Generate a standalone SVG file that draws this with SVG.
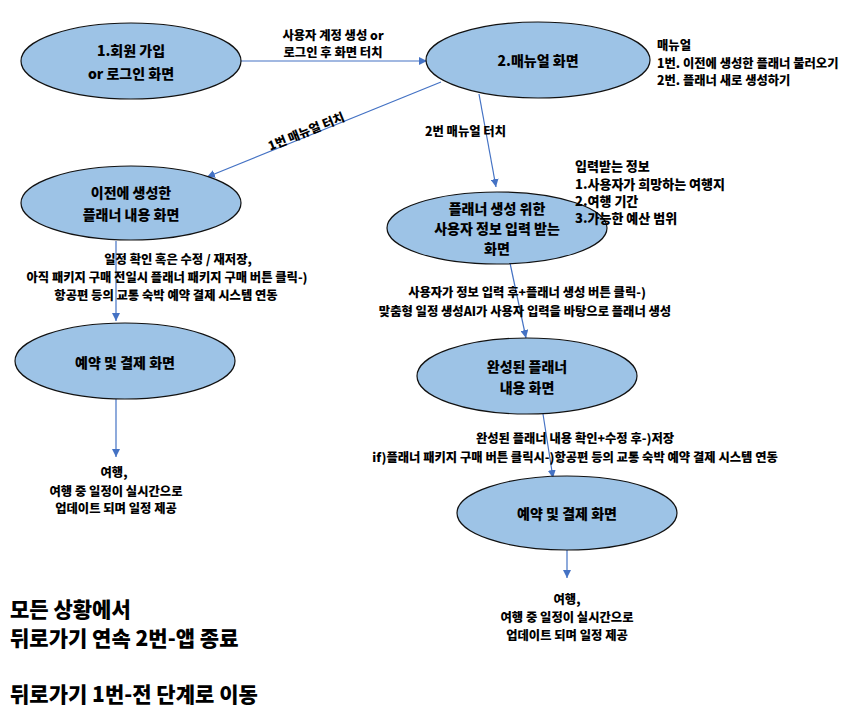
<svg xmlns="http://www.w3.org/2000/svg" width="866" height="720" viewBox="0 0 866 720">
<defs>
<style>
text{font-family:"Noto Sans CJK KR","Liberation Sans",sans-serif;font-weight:900;fill:#000;dominant-baseline:central}
.node ellipse{fill:#9DC3E6;stroke:#111;stroke-width:1.2}
.nt{font-size:14px;text-anchor:middle}
.lb{font-size:12.3px;text-anchor:middle}
.sd{font-size:12.3px}
.sd2{font-size:13px}
.big{font-size:21px}
.conn line{stroke:#4472C4;stroke-width:1.2;marker-end:url(#ah)}
</style>
<marker id="ah" viewBox="0 0 10 10" refX="10" refY="5" markerWidth="8" markerHeight="8" markerUnits="userSpaceOnUse" orient="auto">
<path d="M0,0 L10,5 L0,10 z" fill="#4472C4"/>
</marker>
</defs>
<rect width="866" height="720" fill="#fff"/>
<g id="connectors" class="conn">
<line x1="241" y1="61" x2="427" y2="61"/>
<line x1="441" y1="82" x2="207" y2="177"/>
<line x1="479" y1="94" x2="496" y2="187"/>
<line x1="510" y1="263" x2="526" y2="338"/>
<line x1="543" y1="414" x2="553" y2="478"/>
<line x1="116" y1="241" x2="116" y2="321"/>
<line x1="116" y1="399" x2="116" y2="457"/>
<line x1="567" y1="550" x2="567" y2="578"/>
</g>
<g id="labels">
<text class="lb" x="333" y="35">사용자 계정 생성 or</text>
<text class="lb" x="333" y="52">로그인 후 화면 터치</text>
<text class="lb" x="306" y="131" transform="rotate(-22 306 131)">1번 매뉴얼 터치</text>
<text class="sd" x="425" y="131">2번 매뉴얼 터치</text>
<text class="lb" x="178" y="259">일정 확인 혹은 수정 / 재저장,</text>
<text class="lb" x="167" y="277">아직 패키지 구매 전일시 플래너 패키지 구매 버튼 클릭-)</text>
<text class="lb" x="166" y="295">항공편 등의 교통 숙박 예약 결제 시스템 연동</text>
<text class="lb" x="527" y="292">사용자가 정보 입력 후+플래너 생성 버튼 클릭-)</text>
<text class="lb" x="525" y="311">맞춤형 일정 생성AI가 사용자 입력을 바탕으로 플래너 생성</text>
<text class="lb" x="575" y="438">완성된 플래너 내용 확인+수정 후-)저장</text>
<text class="lb" x="575" y="457">if)플래너 패키지 구매 버튼 클릭시-)항공편 등의 교통 숙박 예약 결제 시스템 연동</text>
</g>
<g id="n1" class="node">
<ellipse cx="131" cy="61" rx="110" ry="38"/>
<text class="nt" x="131" y="50">1.회원 가입</text>
<text class="nt" x="131" y="73">or 로그인 화면</text>
</g>
<g id="n2" class="node">
<ellipse cx="538" cy="60" rx="112" ry="38"/>
<text class="nt" x="538" y="60">2.매뉴얼 화면</text>
</g>
<g id="n2note">
<text class="sd" x="657" y="45">매뉴얼</text>
<text class="sd" x="657" y="63">1번. 이전에 생성한 플래너 불러오기</text>
<text class="sd" x="657" y="80">2번. 플래너 새로 생성하기</text>
</g>
<g id="n3" class="node">
<ellipse cx="131" cy="203" rx="110" ry="37"/>
<text class="nt" x="131" y="192">이전에 생성한</text>
<text class="nt" x="131" y="214">플래너 내용 화면</text>
</g>
<g id="n4" class="node">
<ellipse cx="497" cy="228" rx="110" ry="36"/>
<text class="nt" x="497" y="208">플래너 생성 위한</text>
<text class="nt" x="497" y="228">사용자 정보 입력 받는</text>
<text class="nt" x="497" y="248">화면</text>
</g>
<g id="n4note">
<text class="sd2" x="575" y="165">입력받는 정보</text>
<text class="sd2" x="575" y="183">1.사용자가 희망하는 여행지</text>
<text class="sd2" x="575" y="200">2.여행 기간</text>
<text class="sd2" x="575" y="217">3.가능한 예산 범위</text>
</g>
<g id="n5" class="node">
<ellipse cx="527" cy="376" rx="110" ry="38"/>
<text class="nt" x="527" y="366">완성된 플래너</text>
<text class="nt" x="527" y="387">내용 화면</text>
</g>
<g id="n6" class="node">
<ellipse cx="567" cy="513" rx="110" ry="37"/>
<text class="nt" x="567" y="513">예약 및 결제 화면</text>
</g>
<g id="n7" class="node">
<ellipse cx="125" cy="361" rx="110" ry="38"/>
<text class="nt" x="125" y="362">예약 및 결제 화면</text>
</g>
<g id="t1">
<text class="lb" x="114" y="472">여행,</text>
<text class="lb" x="116" y="491">여행 중 일정이 실시간으로</text>
<text class="lb" x="116" y="508">업데이트 되며 일정 제공</text>
</g>
<g id="t2">
<text class="lb" x="567" y="599">여행,</text>
<text class="lb" x="567" y="617">여행 중 일정이 실시간으로</text>
<text class="lb" x="567" y="635">업데이트 되며 일정 제공</text>
</g>
<g id="notes">
<text class="big" x="10" y="608">모든 상황에서</text>
<text class="big" x="10" y="637">뒤로가기 연속 2번-앱 종료</text>
<text class="big" x="10" y="693">뒤로가기 1번-전 단계로 이동</text>
</g>
</svg>
